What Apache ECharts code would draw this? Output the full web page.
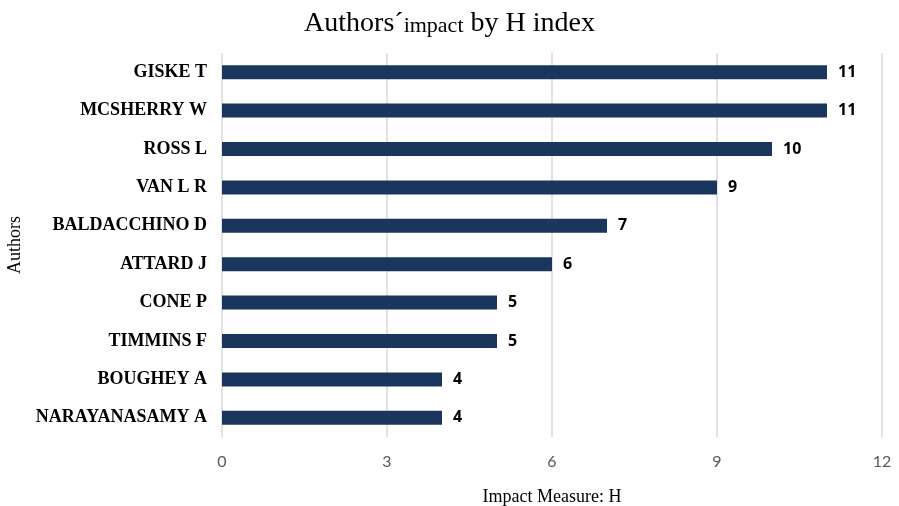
<!DOCTYPE html>
<html>
<head>
<meta charset="utf-8">
<script src="https://cdn.jsdelivr.net/npm/echarts@6/dist/echarts.min.js"></script>
<style>
  html, body { margin: 0; padding: 0; background: #fff; }
  #chart { width: 899px; height: 506px; }
</style>
</head>
<body>
<div id="chart"></div>
<script>
// data, top to bottom as in the picture
var authors = ["GISKE T", "MCSHERRY W", "ROSS L", "VAN L R", "BALDACCHINO D",
  "ATTARD J", "CONE P", "TIMMINS F", "BOUGHEY A", "NARAYANASAMY A"];
var hIndex = [11, 11, 10, 9, 7, 6, 5, 5, 4, 4];

var chart = echarts.init(document.getElementById("chart"));

var option = {
  animation: false,
  title: {
    text: "{a|Authors´}{b|impact}{a| by H index}",
    left: "center",
    top: 5,
    textStyle: {
      rich: {
        a: { fontFamily: "Liberation Serif", fontWeight: "normal", fontSize: 28, color: "#000" },
        b: { fontFamily: "Liberation Serif", fontWeight: "normal", fontSize: 22, color: "#000", padding: [4, 0, 0, 0] }
      }
    }
  },
  grid: {
    left: 222,
    right: 17,
    top: 53,
    bottom: 69,
    outerBoundsMode: "none"
  },
  xAxis: {
    type: "value",
    min: 0,
    max: 12,
    interval: 3,
    name: "Impact Measure: H",
    nameLocation: "middle",
    nameGap: 51,
    nameTextStyle: { fontFamily: "Liberation Serif", fontSize: 18, color: "#000" },
    axisLine: { show: false },
    axisTick: { show: false },
    axisLabel: { fontFamily: "Lato", fontSize: 16, color: "#595959", margin: 17 },
    splitLine: { lineStyle: { color: "#d9d9d9", width: 1.5 } }
  },
  yAxis: {
    type: "category",
    data: authors,
    inverse: true,
    name: "Authors",
    nameLocation: "middle",
    nameGap: 198,
    nameRotate: 90,
    nameTextStyle: { fontFamily: "Liberation Serif", fontSize: 18, color: "#000" },
    axisLine: { show: false },
    axisTick: { show: false },
    axisLabel: {
      fontFamily: "Liberation Serif",
      fontWeight: "bold",
      fontSize: 18,
      color: "#000",
      margin: 15
    }
  },
  series: [
    {
      type: "bar",
      data: hIndex,
      barWidth: 14,
      itemStyle: { color: "#1b365d" },
      label: {
        show: true,
        position: "right",
        distance: 11,
        fontFamily: "Open Sans",
        fontWeight: "bold",
        fontSize: 16,
        color: "#000"
      }
    }
  ]
};

chart.setOption(option);
</script>
</body>
</html>
